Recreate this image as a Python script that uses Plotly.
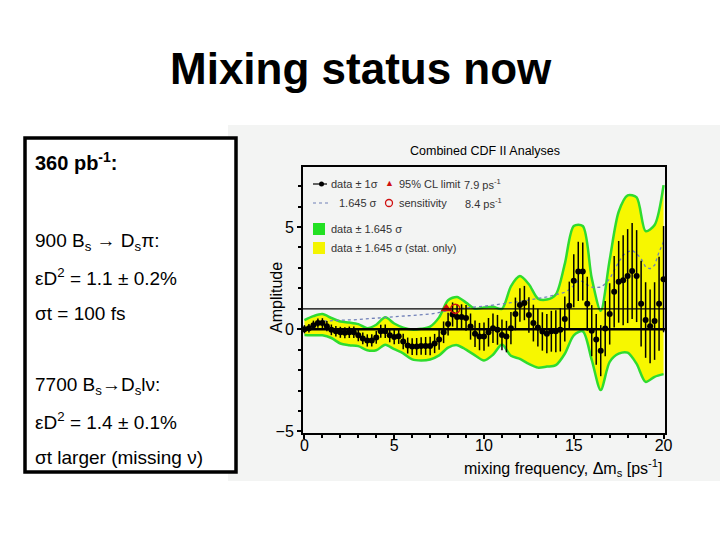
import plotly.graph_objects as go

# ---------------- data ----------------
dm = [0.0, 0.25, 0.5, 0.75, 1.0, 1.25, 1.5, 1.75, 2.0, 2.25, 2.5, 2.75, 3.0, 3.25, 3.5, 3.75,
      4.0, 4.25, 4.5, 4.75, 5.0, 5.25, 5.5, 5.75, 6.0, 6.25, 6.5, 6.75, 7.0, 7.25, 7.5, 7.75,
      8.0, 8.25, 8.5, 8.75, 9.0, 9.25, 9.5, 9.75, 10.0, 10.25, 10.5, 10.75, 11.0, 11.25, 11.5,
      11.75, 12.0, 12.25, 12.5, 12.75, 13.0, 13.25, 13.5, 13.75, 14.0, 14.25, 14.5, 14.75, 15.0,
      15.25, 15.5, 15.75, 16.0, 16.25, 16.5, 16.75, 17.0, 17.25, 17.5, 17.75, 18.0, 18.25, 18.5,
      18.75, 19.0, 19.25, 19.5, 19.75, 20.0]

amplitude = [0.0, 0.05, 0.2, 0.3, 0.3, 0.15, -0.03, -0.1, -0.15, -0.17,
             -0.15, -0.15, -0.3, -0.45, -0.55, -0.55, -0.4, -0.1, -0.1, -0.3,
             -0.38, -0.35, -0.6, -0.8, -0.85, -0.85, -0.82, -0.82, -0.82, -0.7,
             -0.5, -0.15, 0.25, 0.72, 0.6, 0.6, 0.55, 0.13, -0.22, -0.36,
             -0.36, -0.15, 0.05, -0.03, -0.28, -0.36, 0.05, 0.75, 1.18, 1.28,
             0.7, 0.3, 0.08, -0.11, -0.22, -0.1, -0.1, -0.03, 0.5, 1.15,
             2.37, 2.83, 2.83, 1.25, -0.07, -0.5, -1.05, 0.03, 0.75, 1.83,
             2.32, 2.4, 2.6, 2.85, 2.6, 1.25, 0.45, 0.14, 0.4, 1.25, 2.45]

sigma = [0.2, 0.21, 0.22, 0.23, 0.24, 0.25, 0.26, 0.26, 0.27, 0.27,
         0.28, 0.28, 0.29, 0.29, 0.3, 0.3, 0.31, 0.32, 0.33, 0.34,
         0.35, 0.37, 0.38, 0.39, 0.41, 0.42, 0.43, 0.44, 0.45, 0.47,
         0.5, 0.53, 0.56, 0.59, 0.61, 0.62, 0.63, 0.64, 0.65, 0.67,
         0.69, 0.7, 0.72, 0.73, 0.75, 0.77, 0.79, 0.8, 0.82, 0.84,
         0.87, 0.9, 0.92, 0.94, 0.96, 1.0, 1.03, 1.06, 1.1, 1.18,
         1.3, 1.45, 1.42, 1.32, 1.25, 1.24, 1.25, 1.35, 1.5, 1.75,
         2.0, 2.2, 2.3, 2.35, 2.25, 2.1, 1.85, 1.8, 1.9, 2.3, 2.6]

# outline of the +-1.645 sigma band (read at 0.5 ps^-1 steps)
band_dm = [0.0, 0.5, 1.0, 1.5, 2.0, 2.5, 3.0, 3.5, 4.0, 4.5, 5.0, 5.5, 6.0, 6.5, 7.0, 7.5,
           8.0, 8.5, 9.0, 9.5, 10.0, 10.5, 11.0, 11.5, 12.0, 12.5, 13.0, 13.5, 14.0, 14.5,
           15.0, 15.5, 16.0, 16.5, 17.0, 17.5, 18.0, 18.5, 19.0, 19.5, 20.0]
band_hi = [0.45, 0.64, 0.74, 0.55, 0.38, 0.33, 0.25, 0.05, 0.22, 0.58,
           0.28, 0.08, -0.02, 0.02, 0.13, 0.58, 1.42, 1.58, 1.3, 1.0,
           1.06, 1.1, 1.0, 2.1, 2.6, 2.2, 1.5, 1.45, 1.7, 3.2,
           5.05, 5.05, 2.5, 0.9, 3.4, 5.75, 6.55, 6.45, 4.8, 5.1, 7.05]
band_lo = [-0.28, -0.3, -0.3, -0.43, -0.7, -0.78, -0.83, -1.03, -1.03, -0.76,
           -0.98, -1.18, -1.48, -1.53, -1.48, -1.28, -0.9, -0.78, -1.0, -1.28,
           -1.53, -1.25, -0.75, -1.3, -1.45, -1.7, -1.88, -1.83, -1.76, -1.2,
           -0.3, -0.1, -1.5, -2.98, -1.6, -1.2, -1.15, -1.7, -2.58, -2.33, -2.2]

limit_dm = 7.9
sens_dm = 8.4
ref_amplitude = 1.0
x_ticks = [0, 5, 10, 15, 20]
y_ticks = [-5, 0, 5]

# ---------------- styling ----------------
FONT = "Liberation Sans, Arial, Helvetica, sans-serif"
YELLOW = "#f7f700"
GREEN = "#2fdc2f"
PANEL = "#f3f4f3"
RED = "#d01010"
DOTS = "#7080b8"

W, H = 720, 540
L, R, T, B = 303, 665, 167, 433


def px(x):
    return (x - L) / (R - L)


def py(y):
    return (B - y) / (B - T)


fig = go.Figure()

spl = dict(shape="spline", smoothing=0.8)
fig.add_trace(go.Scatter(x=band_dm, y=band_lo, mode="lines",
                         line=dict(width=0, **spl), hoverinfo="skip"))
fig.add_trace(go.Scatter(x=band_dm, y=band_hi, mode="lines", fill="tonexty",
                         fillcolor=YELLOW, line=dict(width=0, **spl), hoverinfo="skip"))
for edge in (band_lo, band_hi):
    fig.add_trace(go.Scatter(x=band_dm, y=edge, mode="lines",
                             line=dict(color=GREEN, width=2.5, **spl), hoverinfo="skip"))

# 1.645 sigma sensitivity curve
fig.add_trace(go.Scatter(x=dm[3:], y=[1.645 * s for s in sigma[3:]], mode="lines",
                         line=dict(color=DOTS, width=1.3, dash="dot")))

# data +- 1 sigma
fig.add_trace(go.Scatter(x=dm, y=amplitude, mode="markers",
                         marker=dict(color="black", size=6),
                         error_y=dict(type="data", array=sigma, visible=True,
                                      color="black", thickness=1.5, width=0)))

# 95% CL limit and sensitivity
fig.add_trace(go.Scatter(x=[limit_dm], y=[ref_amplitude], mode="markers",
                         marker=dict(symbol="triangle-up", color=RED, size=10)))
fig.add_trace(go.Scatter(x=[sens_dm], y=[ref_amplitude], mode="markers",
                         marker=dict(symbol="circle-open", color=RED, size=9,
                                     line=dict(width=1.5, color=RED))))

shapes = [
    # grey picture panel and white text box
    dict(type="rect", xref="paper", yref="paper", x0=px(228), x1=px(720), y0=py(481), y1=py(125),
         fillcolor=PANEL, line=dict(width=0), layer="below"),
    dict(type="rect", xref="paper", yref="paper", x0=px(25), x1=px(236), y0=py(472), y1=py(138),
         fillcolor="white", line=dict(color="black", width=3.5), layer="below"),
    # amplitude = 0 and amplitude = 1 lines
    dict(type="line", xref="paper", yref="y", x0=0, x1=1, y0=0, y1=0,
         line=dict(color="black", width=2.5), layer="above"),
    dict(type="line", xref="paper", yref="y", x0=0, x1=1, y0=ref_amplitude, y1=ref_amplitude,
         line=dict(color="black", width=1.2), layer="above"),
    # legend glyphs
    dict(type="line", xref="paper", yref="paper", x0=px(313), x1=px(327), y0=py(184), y1=py(184),
         line=dict(color="black", width=1.2)),
    dict(type="circle", xref="paper", yref="paper", x0=px(319), x1=px(324), y0=py(186.5), y1=py(181.5),
         fillcolor="black", line=dict(color="black", width=0)),
    dict(type="line", xref="paper", yref="paper", x0=px(313), x1=px(330), y0=py(203), y1=py(203),
         line=dict(color=DOTS, width=1.2, dash="dot")),
    dict(type="circle", xref="paper", yref="paper", x0=px(385.5), x1=px(392.5), y0=py(206.5), y1=py(199.5),
         line=dict(color=RED, width=1.3)),
    dict(type="rect", xref="paper", yref="paper", x0=px(313), x1=px(325), y0=py(235), y1=py(223),
         fillcolor="#22e022", line=dict(width=0)),
    dict(type="rect", xref="paper", yref="paper", x0=px(313), x1=px(325), y0=py(254), y1=py(242),
         fillcolor="#f4f400", line=dict(width=0)),
]

ann = []


def text(x, y, s, size, anchor="left", color="black", **kw):
    ann.append(dict(x=px(x), y=py(y), xref="paper", yref="paper", text=s, showarrow=False,
                    xanchor=anchor, yanchor="middle", font=dict(size=size, color=color, family=FONT),
                    **kw))


# slide title
text(361, 68, "<b>Mixing status now</b>", 44, anchor="center")

# text box
text(33, 161, "<b>360 pb<sup>-1</sup>:</b>", 20)
text(33, 242, "900 B<sub>s</sub> \u2192 D<sub>s</sub>\u03c0:", 19)
text(33, 277, "\u03b5D<sup>2</sup> = 1.1 \u00b1 0.2%", 19)
text(33, 313, "\u03c3t = 100 fs", 19)
text(33, 386, "7700 B<sub>s</sub>\u2192D<sub>s</sub>l\u03bd:", 19)
text(33, 421, "\u03b5D<sup>2</sup> = 1.4 \u00b1 0.1%", 19)
text(33, 457, "\u03c3t larger (missing \u03bd)", 19)

# plot title and axis titles
text(485, 151, "Combined CDF II Analyses", 12.5, anchor="center")
text(276, 298, "Amplitude", 16, anchor="center", textangle=-90)
text(664, 468, "mixing frequency, \u0394m<sub>s</sub> [ps<sup>-1</sup>]", 16, anchor="right")

# legend texts
LG = "#333333"
text(329, 184, "data \u00b1 1\u03c3", 11, color=LG)
text(389, 183, "\u25b2", 9, anchor="center", color=RED)
text(397, 184, "95% CL limit", 11, color=LG)
text(462, 184, "7.9 ps<sup>-1</sup>", 11, color=LG)
text(337, 203, "1.645 \u03c3", 11, color=LG)
text(397, 203, "sensitivity", 11, color=LG)
text(463, 203, "8.4 ps<sup>-1</sup>", 11, color=LG)
text(329, 229, "data \u00b1 1.645 \u03c3", 11, color=LG)
text(329, 248, "data \u00b1 1.645 \u03c3 (stat. only)", 11, color=LG)

fig.update_layout(
    width=W, height=H,
    margin=dict(l=L, r=W - R, t=T, b=H - B, pad=0),
    paper_bgcolor="white", plot_bgcolor=PANEL,
    showlegend=False,
    font=dict(family=FONT, color="black"),
    shapes=shapes, annotations=ann,
)
fig.update_xaxes(range=[-0.08, 20.08], tickvals=x_ticks, ticks="outside", ticklen=4,
                 tickwidth=1.5, tickcolor="black", ticklabelstandoff=-7,
                 minor=dict(tick0=0, dtick=1, ticks="outside", ticklen=3, tickcolor="black"),
                 showline=True, linewidth=2, linecolor="black", mirror=True,
                 showgrid=False, zeroline=False, tickfont=dict(size=16, family=FONT))
fig.update_yaxes(range=[-5.08, 7.94], tickvals=y_ticks, ticks="outside", ticklen=4,
                 tickwidth=1.5, tickcolor="black",
                 minor=dict(tick0=0, dtick=1, ticks="outside", ticklen=3, tickcolor="black"),
                 showline=True, linewidth=2, linecolor="black", mirror=True,
                 showgrid=False, zeroline=False, tickfont=dict(size=16, family=FONT))

fig.write_html("out.html")
